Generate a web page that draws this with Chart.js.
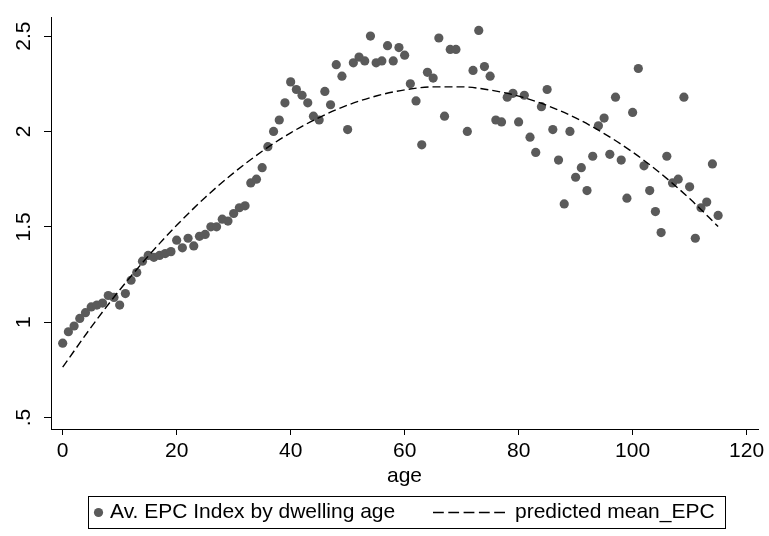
<!DOCTYPE html>
<html>
<head>
<meta charset="utf-8">
<script src="https://cdn.jsdelivr.net/npm/chart.js@4"></script>
<style>
html,body{margin:0;padding:0;background:#fff;}
#wrap{width:769px;height:536px;}
</style>
</head>
<body>
<div id="wrap"><canvas id="chart" width="769" height="536"></canvas></div>
<script>
const ages=[0,1,2,3,4,5,6,7,8,9,10,11,12,13,14,15,16,17,18,19,20,21,22,23,24,25,26,27,28,29,
30,31,32,33,34,35,36,37,38,39,40,41,42,43,44,45,46,47,48,49,50,51,52,53,54,55,56,57,58,59,
60,61,62,63,64,65,66,67,68,69,71,72,73,74,75,76,77,78,79,80,81,82,83,84,85,86,87,88,89,
90,91,92,93,94,95,96,97,98,99,100,101,102,103,104,105,106,107,108,109,110,111,112,113,114,115];
const epcIndex=[0.89,0.95,0.98,1.02,1.05,1.08,1.09,1.10,1.14,1.13,
1.09,1.15,1.22,1.26,1.32,1.35,1.34,1.35,1.36,1.37,
1.43,1.39,1.44,1.40,1.45,1.46,1.50,1.50,1.54,1.53,
1.57,1.60,1.61,1.73,1.75,1.81,1.92,2.00,2.06,2.15,
2.26,2.22,2.19,2.15,2.08,2.06,2.21,2.14,2.35,2.29,
2.01,2.36,2.39,2.37,2.50,2.36,2.37,2.45,2.37,2.44,
2.40,2.25,2.16,1.93,2.31,2.28,2.49,2.08,2.43,2.43,
2.00,2.32,2.53,2.34,2.29,2.06,2.05,2.18,2.20,
2.05,2.19,1.97,1.89,2.13,2.22,2.01,1.85,1.62,2.00,
1.76,1.81,1.69,1.87,2.03,2.07,1.88,2.18,1.85,1.65,
2.10,2.33,1.82,1.69,1.58,1.47,1.87,1.73,1.75,2.18,
1.71,1.44,1.60,1.63,1.83,1.56];
const fitAges=[0,5,10,15,20,25,30,35,40,45,50,55,60,65,70,75,80,85,90,95,100,105,110,115];
const fitEpc=[0.764,0.974,1.169,1.346,1.508,1.654,1.783,1.896,1.993,2.073,2.138,2.186,
2.218,2.234,2.234,2.217,2.185,2.136,2.071,1.989,1.892,1.778,1.648,1.502];
const xTicks=[0,20,40,60,80,100,120];
const yTicks=[0.5,1,1.5,2,2.5];
const yTickLabels=[".5","1","1.5","2","2.5"];
const seriesNames=["Av. EPC Index by dwelling age","predicted mean_EPC"];

const dotColor="#5a5a5a";
const fontFam="'Liberation Sans', Arial, Helvetica, sans-serif";
Chart.defaults.font.family=fontFam;
Chart.defaults.font.size=21;
Chart.defaults.color="#000";

const stataLegend={
id:"stataLegend",
afterDraw(chart){
const ctx=chart.ctx;
const y=512.5;
ctx.save();
ctx.font="21px "+fontFam;
ctx.textBaseline="middle";
let x=89;
ctx.fillStyle=dotColor;
ctx.beginPath();ctx.arc(x+9.5,y,4.6,0,Math.PI*2);ctx.fill();
ctx.fillStyle="#000";
ctx.fillText(seriesNames[0],x+21,y);
let lx=433;
ctx.strokeStyle="#000";ctx.lineWidth=1.4;ctx.setLineDash([10.8,4.5]);
ctx.beginPath();ctx.moveTo(lx,y);ctx.lineTo(lx+72,y);ctx.stroke();
ctx.setLineDash([]);
ctx.fillText(seriesNames[1],lx+82,y);
let w=ctx.measureText(seriesNames[1]).width;
ctx.lineWidth=1;
ctx.strokeRect(88.5,496.5,Math.round(lx+82+w+10-88),32);
ctx.restore();
}
};

new Chart(document.getElementById("chart"),{
type:"scatter",
data:{datasets:[
{label:seriesNames[1],data:fitAges.map((a,i)=>({x:a,y:fitEpc[i]})),showLine:true,
borderColor:"#000",borderWidth:1.4,borderDash:[8,4],pointRadius:0,
cubicInterpolationMode:"monotone",order:0},
{label:seriesNames[0],data:ages.map((a,i)=>({x:a,y:epcIndex[i]})),
pointRadius:4.6,pointBorderWidth:0,backgroundColor:dotColor,borderColor:dotColor,order:1}
]},
options:{
responsive:false,animation:false,devicePixelRatio:1,events:[],
layout:{padding:{top:9,right:11,bottom:47,left:0}},
plugins:{legend:{display:false},tooltip:{enabled:false}},
scales:{
x:{type:"linear",min:-2.05,max:122,
afterBuildTicks:s=>{s.ticks=xTicks.map(v=>({value:v}));},
afterFit:s=>{s.height=60;},
grid:{drawOnChartArea:false,tickLength:6,tickColor:"#000"},
border:{color:"#000",width:1},
ticks:{autoSkip:false,maxRotation:0,padding:4,color:"#000",font:{size:21}},
title:{display:true,text:"age",color:"#000",font:{size:21},padding:{top:0,bottom:0}}
},
y:{type:"linear",min:0.44,max:2.597,
afterBuildTicks:s=>{s.ticks=yTicks.map(v=>({value:v}));},
afterFit:s=>{s.width=51;},
grid:{drawOnChartArea:false,tickLength:7,tickColor:"#000"},
border:{color:"#000",width:1},
ticks:{autoSkip:false,minRotation:90,maxRotation:90,crossAlign:"center",padding:5,color:"#000",
font:{size:21},callback:v=>yTickLabels[yTicks.indexOf(v)]}
}
}
},
plugins:[stataLegend]
});
</script>
</body>
</html>
